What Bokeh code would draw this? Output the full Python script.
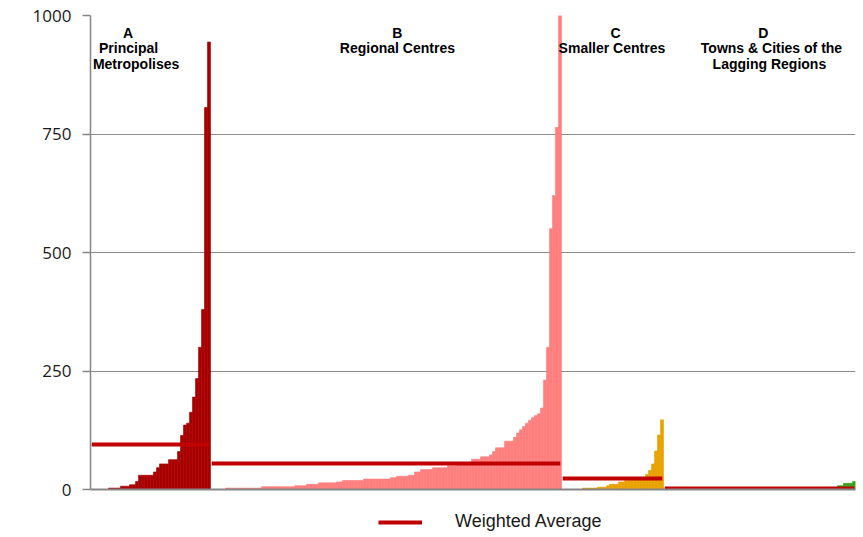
from bokeh.plotting import figure
from bokeh.layouts import column
from bokeh.models import (Range1d, ColumnDataSource, Label, Legend, LegendItem,
                          FixedTicker)
from bokeh.embed import file_html
from bokeh.resources import INLINE

# ---------------- data ----------------
group_titles = [
    ["A", "Principal", "Metropolises"],
    ["B", "Regional Centres"],
    ["C", "Smaller Centres"],
    ["D", "Towns & Cities of the", "Lagging Regions"],
]

values_a = [0, 0, 0, 0, 0, 0, 3, 3, 3, 3, 7, 7, 7, 10, 10, 17, 30, 30, 30, 30,
            30, 37, 46, 54, 54, 54, 63, 63, 63, 80, 114, 136, 140, 163, 195,
            234, 300, 380, 806, 944]

values_b = [0, 0, 0, 0, 0, 3, 3, 3, 3, 3, 3, 3, 3, 3, 3, 3, 3,
            6, 6, 6, 6, 6, 6, 6, 6, 6, 6, 6, 8, 8, 8, 8, 11, 11, 11, 11,
            14, 14, 14, 14, 14, 14, 16, 16, 19, 19, 19, 19, 19, 19, 19,
            22, 22, 22, 22, 22, 22, 22, 22, 22, 25, 25, 28, 28, 28, 28, 30, 30,
            37, 37, 42, 42, 42, 42, 46, 46, 46, 46, 46, 50, 50, 50,
            55, 55, 55, 55, 55, 64, 64, 64, 69, 69, 69, 73, 80, 88, 88, 88,
            102, 102, 102, 110, 119, 126, 133, 140, 146, 152, 156, 160, 172,
            231, 300, 550, 620, 764, 1000]

values_c = [0, 0, 0, 0, 0, 0, 0, 3, 3, 3, 3, 3, 5, 5, 5, 8, 11, 11, 11, 16,
            16, 19, 19, 19, 22, 22, 22, 22, 32, 40, 54, 81, 115, 147]

values_d = [0, 0, 0, 0, 0, 0, 0, 0, 0, 0, 0, 0, 0, 0, 0, 0, 0, 0, 0, 0,
            0, 0, 0, 0, 0, 0, 0, 0, 0, 0, 0, 0, 0, 0, 0, 0, 0, 0, 0, 0,
            0, 0, 0, 0, 0, 0, 0, 0, 0, 0, 0, 0, 0, 0, 4, 4, 4, 4, 8, 8,
            13, 13, 13, 17]

weighted_avg = [95, 55, 23, 2]
group_colors = ["#A80000", "#FF7F7F", "#E8A202", "#3CA01E"]
avg_color = "#C00000"
y_ticks = [0, 250, 500, 750, 1000]
legend_label = "Weighted Average"

# ---------------- build sources ----------------
groups = [values_a, values_b, values_c, values_d]
xs, tops, cols = [], [], []
starts, ends = [], []
pos = 0
for vals, col in zip(groups, group_colors):
    starts.append(pos)
    for v in vals:
        xs.append(pos + 0.5)
        tops.append(v)
        cols.append(col)
        pos += 1
    ends.append(pos)
n_total = pos

bar_src = ColumnDataSource(dict(x=xs, top=tops, color=cols))
avg_src = ColumnDataSource(dict(x0=[s + 0.4 for s in starts],
                                x1=[e - 0.4 for e in ends],
                                y=weighted_avg))

# ---------------- main figure ----------------
p = figure(width=863, height=505, output_backend="svg", toolbar_location=None,
           x_range=Range1d(0, n_total), y_range=Range1d(0, 1000),
           min_border_left=90, min_border_right=8, min_border_top=15,
           min_border_bottom=16)
p.outline_line_color = None
p.background_fill_color = "white"
p.border_fill_color = "white"

p.vbar(x="x", top="top", width=1.0, source=bar_src, fill_color="color",
       line_color="color", line_width=0.6)

p.segment(x0="x0", y0="y", x1="x1", y1="y", source=avg_src,
          line_color=avg_color, line_width=4, line_cap="butt")

# y axis
yax = p.yaxis[0]
yax.ticker = FixedTicker(ticks=y_ticks)
yax.minor_tick_line_color = None
yax.major_tick_in = 0
yax.major_tick_out = 8
yax.axis_line_color = "#868686"
yax.axis_line_width = 1.5
yax.major_tick_line_color = "#868686"
yax.major_tick_line_width = 1.5
yax.major_label_standoff = 11
yax.major_label_text_font = "Open Sans"
yax.major_label_text_font_size = "17px"
yax.major_label_text_color = "#1a1a1a"

# x axis
xax = p.xaxis[0]
xax.ticker = FixedTicker(ticks=[])
xax.minor_tick_line_color = None
xax.major_tick_line_color = None
xax.major_tick_out = 0
xax.major_tick_in = 0
xax.major_label_text_font_size = "0px"
xax.major_label_standoff = 0
xax.axis_line_color = "#868686"
xax.axis_line_width = 2

p.xgrid.visible = False
p.ygrid.grid_line_color = "#8C8C8C"
p.ygrid.grid_line_width = 1

# group titles
label_pos = [
    [(12.5, 964), (12.7, 931), (15.2, 898)],
    [(102.3, 964), (102.3, 931)],
    [(175.0, 964), (173.8, 931)],
    [(224.3, 964), (227.0, 931), (226.3, 898)],
]
for lines, poss in zip(group_titles, label_pos):
    for txt, (lx, ly) in zip(lines, poss):
        p.add_layout(Label(x=lx, y=ly, text=txt, text_align="center",
                           text_baseline="alphabetic",
                           text_font="Liberation Sans",
                           text_font_style="bold", text_font_size="14px",
                           text_color="#000000"))

# ---------------- legend strip (same weighted-average data, out of view) ----
pl = figure(width=863, height=32, output_backend="svg", toolbar_location=None,
            x_range=Range1d(0, n_total), y_range=Range1d(-2, -1),
            x_axis_location=None, y_axis_location=None,
            min_border=0)
pl.outline_line_color = None
pl.grid.visible = False
pl.background_fill_color = "white"
pl.border_fill_color = "white"
leg_r = pl.segment(x0="x0", y0="y", x1="x1", y1="y", source=avg_src,
                   line_color=avg_color, line_width=4, line_cap="butt")

legend = Legend(items=[LegendItem(label=legend_label, renderers=[leg_r])],
                location=(288, 5), orientation="horizontal", padding=0,
                margin=0, spacing=0, glyph_width=44, glyph_height=20,
                label_standoff=33, border_line_color=None,
                background_fill_alpha=0, label_text_font="Liberation Sans",
                label_text_font_size="18px", label_text_color="#1a1a1a")
pl.add_layout(legend)

layout = column(p, pl, spacing=0)
open("out.html", "w").write(file_html(layout, INLINE))
